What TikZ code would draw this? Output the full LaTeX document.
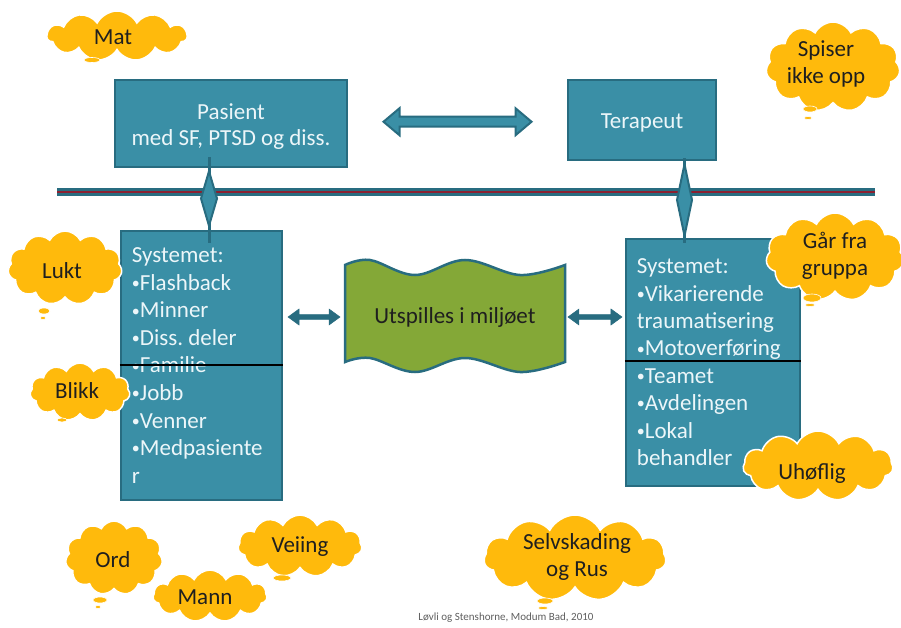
\documentclass[tikz,border=0pt]{standalone}
\usepackage{fontspec}
\setmainfont{Carlito}
\usetikzlibrary{shapes.symbols,calc}
\definecolor{tealfill}{RGB}{58,143,166}
\definecolor{tealdark}{RGB}{40,108,128}
\definecolor{boxtext}{RGB}{236,246,249}
\definecolor{barred}{RGB}{140,32,48}
\definecolor{wavegreen}{RGB}{132,168,55}
\definecolor{cloudc}{RGB}{255,186,12}
\definecolor{footgrey}{RGB}{95,95,95}
\newcommand\dblarrow[6]{%
  \path[#1, shift={(#2)}] (-#3,0) -- (-#3+#6,-#4) -- (-#3+#6,-#5) -- (#3-#6,-#5) -- (#3-#6,-#4) -- (#3,0)
     -- (#3-#6,#4) -- (#3-#6,#5) -- (-#3+#6,#5) -- (-#3+#6,#4) -- cycle;}
\newcommand\bul{\raisebox{1.8pt}{\fontsize{16}{16}\selectfont •}}
\frenchspacing
\begin{document}
\begin{tikzpicture}[x=1pt,y=-1pt,
  tealbox/.style={draw=tealdark, fill=tealfill, line width=2.5pt, inner sep=0pt},
  boxtxt/.style={text=boxtext, font=\fontsize{23}{26}\selectfont, inner sep=0pt},
  thought/.style={cloud, cloud puffs=11, cloud puff arc=125, cloud ignores aspect, fill=cloudc, draw=white, line width=1.5pt, inner sep=0pt},
  cloudtxt/.style={font=\fontsize{23}{27}\selectfont, text=black!88, align=center, inner sep=0pt},
  bubble/.style={fill=cloudc, draw=white, line width=0.6pt},
  link/.style={draw=tealdark, line width=3pt},
  lens/.style={draw=tealdark, fill=tealfill, line width=2pt, line join=miter},
  bigarrow/.style={draw=tealdark, fill=tealfill, line width=2pt, line join=miter},
  smallarrow/.style={fill=tealdark, draw=tealdark, line width=0.5pt, line join=miter},
  divider/.style={draw=black, line width=1.6pt},
  wavesty/.style={draw=tealdark, fill=wavegreen, line width=2.5pt}
]
\fill[white] (0,0) rectangle (901,628);
\useasboundingbox (0,0) rectangle (901,628);

% top boxes
\node[tealbox, minimum width=232, minimum height=87] (pasient) at (231,123.5) {};
\node[boxtxt, align=center] (pasientT) at (231,127) {Pasient\\med SF, PTSD og diss.};
\node[tealbox, minimum width=148, minimum height=80] (terapeut) at (642,120) {};
\node[boxtxt] (terapeutT) at (642,123) {Terapeut};

% system boxes
\node[tealbox, minimum width=161, minimum height=269] (sys1) at (201.5,365.5) {};
\node[tealbox, minimum width=174, minimum height=247] (sys2) at (713,362.5) {};

\foreach \t [count=\i from 0] in {Systemet:,\bul Flashback,\bul Minner,\bul Diss. deler,\bul Familie,\bul Jobb,\bul Venner,\bul Medpasiente,r}
  \node[boxtxt, anchor=base west] (sysA\i) at ($(sys1.north west)+(12,{33+27.55*\i})$) {\t};
\foreach \t [count=\i from 0] in {Systemet:,\bul Vikarierende,traumatisering,\bul Motoverføring,\bul Teamet,\bul Avdelingen,\bul Lokal,behandler}
  \node[boxtxt, anchor=base west] (sysB\i) at ($(sys2.north west)+(12,{36+27.4*\i})$) {\t};

\draw[divider] ($(sys1.north west)+(0,135)$) -- ($(sys1.north east)+(0,135)$);
\draw[divider] ($(sys2.north west)+(0,123)$) -- ($(sys2.north east)+(0,123)$);

% central wave
\node[minimum width=220, minimum height=100, inner sep=0pt] (wave) at (455,317) {};
\path[wavesty, shift={(wave.center)}]
  plot[smooth, tension=0.6] coordinates {(-110,-52) (-85,-57) (-40,-42) (10,-57) (65,-42) (110,-52)}
  -- plot[smooth, tension=0.6] coordinates {(110,45) (65,55) (10,41) (-40,55) (-85,41) (-110,45)}
  -- cycle;
\node[font=\fontsize{23}{26}\selectfont, text=black!88, inner sep=0pt] (waveT) at (wave.center) {Utspilles i miljøet};

% arrows
\coordinate (mA) at ($(pasient.east)!0.5!(terapeut.west)$);
\dblarrow{bigarrow}{mA}{74}{13.5}{5}{16}
\coordinate (mL) at ($(sys1.east |- wave.west)!0.5!(wave.west)$);
\dblarrow{smallarrow}{mL}{26}{8}{2.3}{11}
\coordinate (mR) at ($(wave.east)!0.5!(sys2.west |- wave.east)$);
\dblarrow{smallarrow}{mR}{27}{8}{2.3}{11}

% horizontal bar
\coordinate (barL) at (57,192);
\coordinate (barR) at (875,192);
\draw[draw=tealdark, line width=7.5pt] (barL) -- (barR);
\draw[draw=barred, line width=2.4pt] (barL) -- (barR);

% vertical links with lenses
\coordinate (cL) at (209,0);
\coordinate (cR) at (684.5,0);
\draw[link] ($(pasient.south -| cL)+(0,-11)$) -- ($(sys1.north -| cL)+(0,13)$);
\draw[link] ($(terapeut.south -| cR)+(0,-3)$) -- ($(sys2.north -| cR)+(0,5)$);
\coordinate (lAt) at ($(pasient.south -| cL)+(0,3)$);
\coordinate (lAb) at ($(sys1.north -| cL)+(0,-4)$);
\path[lens] (lAt) -- ($(lAt)!0.5!(lAb)+(8,0)$) -- (lAb) -- ($(lAt)!0.5!(lAb)+(-8,0)$) -- cycle;
\coordinate (lBt) at ($(terapeut.south -| cR)+(0,3)$);
\coordinate (lBb) at ($(sys2.north -| cR)+(0,-2)$);
\path[lens] (lBt) -- ($(lBt)!0.5!(lBb)+(7.5,0)$) -- (lBb) -- ($(lBt)!0.5!(lBb)+(-7.5,0)$) -- cycle;

% clouds
\node[thought, minimum width=140, minimum height=50] (cMat) at (117,36) {};
\node[cloudtxt] (tMat) at (113,37) {Mat};
\fill[bubble] (92,60) ellipse [x radius=8, y radius=2.5];

\node[thought, minimum width=134, minimum height=90] (cSpis) at (833,67) {};
\node[cloudtxt] (tSpis) at (826,64) {Spiser\\ikke opp};
\fill[bubble] (810,109) ellipse [x radius=7, y radius=3];
\fill[bubble] (808,118) ellipse [x radius=4, y radius=1.5];

\node[thought, minimum width=114, minimum height=74] (cLukt) at (65,268) {};
\node[cloudtxt] (tLukt) at (62,271) {Lukt};
\fill[bubble] (44,311) ellipse [x radius=6, y radius=3];
\fill[bubble] (43,318) ellipse [x radius=3, y radius=1.5];

\node[thought, minimum width=138, minimum height=88] (cGar) at (835,257) {};
\node[cloudtxt] (tGar) at (835,256) {Går fra\\gruppa};
\fill[bubble] (812,298) ellipse [x radius=9, y radius=4];
\fill[bubble] (810,305) ellipse [x radius=5, y radius=1.5];

\node[thought, minimum width=100, minimum height=58] (cBlikk) at (80,392) {};
\node[cloudtxt] (tBlikk) at (77,391) {Blikk};
\fill[bubble] (62,420) ellipse [x radius=5, y radius=2];

\node[thought, minimum width=150, minimum height=70] (cUh) at (818,466) {};
\node[cloudtxt] (tUh) at (812,473) {Uhøflig};

\node[thought, minimum width=97, minimum height=74] (cOrd) at (114,558) {};
\node[cloudtxt] (tOrd) at (113,560) {Ord};
\fill[bubble] (100,600) ellipse [x radius=7, y radius=3];
\fill[bubble] (98,607) ellipse [x radius=3, y radius=1.5];

\node[thought, minimum width=124, minimum height=62] (cVei) at (300,546) {};
\node[cloudtxt] (tVei) at (300,547) {Veiing};
\fill[bubble] (282,578) ellipse [x radius=9, y radius=3];

\node[thought, minimum width=114, minimum height=52] (cMann) at (210,596) {};
\node[cloudtxt] (tMann) at (205,597) {Mann};

\node[thought, minimum width=182, minimum height=86] (cSelv) at (575,558) {};
\node[cloudtxt] (tSelv) at (577,557) {Selvskading\\og Rus};
\fill[bubble] (545,601) ellipse [x radius=8, y radius=3];
\fill[bubble] (543,608) ellipse [x radius=5, y radius=1.5];

% footer
\node[font=\fontsize{11}{12}\selectfont, text=footgrey, inner sep=0pt] (foot) at (506,618) {Løvli og Stenshorne, Modum Bad, 2010};
\end{tikzpicture}
\end{document}
